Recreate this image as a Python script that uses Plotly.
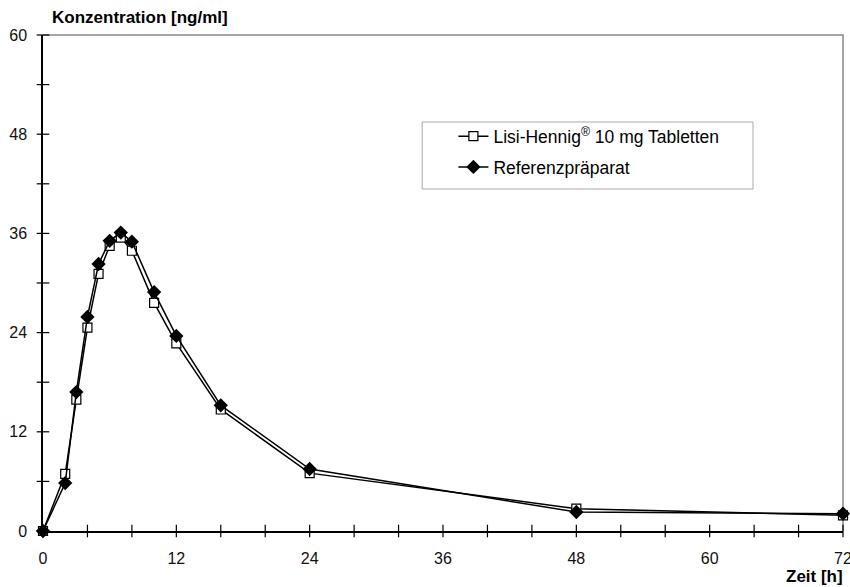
import plotly.graph_objects as go

zeit = [0, 2, 3, 4, 5, 6, 7, 8, 10, 12, 16, 24, 48, 72]
lisi = [0, 6.9, 15.9, 24.6, 31.1, 34.5, 35.5, 33.9, 27.6, 22.7, 14.7, 7.0, 2.7, 1.9]
referenz = [0, 5.8, 16.8, 25.9, 32.3, 35.1, 36.1, 35.0, 28.9, 23.6, 15.2, 7.5, 2.3, 2.1]

x_ticks = [0, 12, 24, 36, 48, 60, 72]
y_ticks = [0, 12, 24, 36, 48, 60]
x_minor = list(range(0, 73, 4))
y_minor = list(range(0, 61, 6))

FONT = "Liberation Sans, Arial, sans-serif"

fig = go.Figure()
# crossing tick marks (drawn as markers centred on the axis lines)
fig.add_trace(go.Scatter(x=x_minor, y=[y_ticks[0]] * len(x_minor), mode="markers",
                         marker=dict(symbol="line-ns", size=9, line=dict(color="black", width=1.2)),
                         cliponaxis=False, showlegend=False, hoverinfo="skip"))
fig.add_trace(go.Scatter(x=[x_ticks[0]] * len(y_minor), y=y_minor, mode="markers",
                         marker=dict(symbol="line-ew", size=9, line=dict(color="black", width=1.2)),
                         cliponaxis=False, showlegend=False, hoverinfo="skip"))
fig.add_trace(go.Scatter(
    x=zeit, y=lisi, mode="lines+markers",
    name="Lisi-Hennig<sup>®</sup> 10 mg Tabletten",
    line=dict(color="black", width=1.5),
    marker=dict(symbol="square", size=9, color="white", line=dict(color="black", width=1.2)),
    legendgroup="a", cliponaxis=False,
))
fig.add_trace(go.Scatter(
    x=zeit, y=referenz, mode="lines+markers",
    name="Referenzpräparat",
    line=dict(color="black", width=1.5),
    marker=dict(symbol="diamond", size=11, color="black", line=dict(color="black", width=0)),
    legendgroup="b", cliponaxis=False,
))

tick_font = dict(family=FONT, size=16, color="#111111")
axis_common = dict(showgrid=False, zeroline=False, linecolor="black", linewidth=1.5,
                   ticks="", tickfont=tick_font, automargin=False, showline=True,
                   ticklabeloverflow="allow")

fig.update_layout(
    width=850, height=587,
    margin=dict(l=43, r=7, t=35, b=56),
    plot_bgcolor="white", paper_bgcolor="white",
    font=dict(family=FONT, color="black"),
    xaxis=dict(range=[0, 72], tickvals=x_ticks, ticklabelstandoff=12, **axis_common),
    yaxis=dict(range=[0, 60], tickvals=y_ticks, ticklabelstandoff=11, **axis_common),
    showlegend=True,
    legend=dict(x=0.513, y=0.832, xanchor="left", yanchor="top",
                bgcolor="rgba(0,0,0,0)", borderwidth=0,
                font=dict(family=FONT, size=17.5, color="black"),
                traceorder="grouped", tracegroupgap=5, itemwidth=30),
    shapes=[
        dict(type="path", xref="paper", yref="paper", path="M 0,1 L 1,1 L 1,0",
             line=dict(color="#888888", width=1.5), layer="below"),
        dict(type="rect", xref="paper", yref="paper", x0=0.474, x1=0.8875, y0=0.6895, y1=0.8246,
             line=dict(color="#aaaaaa", width=1), fillcolor="white", layer="below"),
    ],
    annotations=[
        dict(text="<b>Konzentration [ng/ml]</b>", xref="paper", yref="paper", x=0.00875, y=1.036,
             xanchor="left", yanchor="middle", showarrow=False,
             font=dict(family=FONT, size=17, color="black")),
        dict(text="<b>Zeit [h]</b>", xref="paper", yref="paper", x=1, y=-0.0927,
             xanchor="right", yanchor="middle", xshift=2, showarrow=False,
             font=dict(family=FONT, size=17, color="black")),
    ],
)

fig.write_html("out.html")
